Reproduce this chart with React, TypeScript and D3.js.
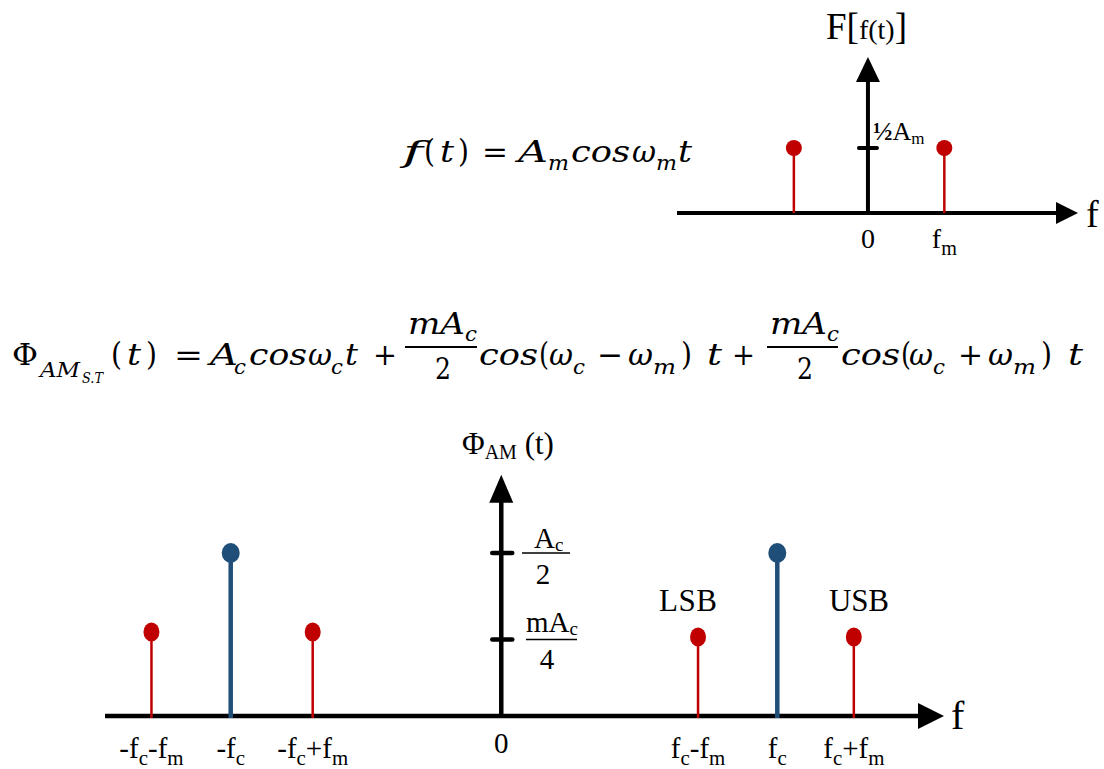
import React from "react";
import * as d3 from "d3";

// message spectrum f(t) = Am cos(wm t): lines at -fm, +fm (units of fm, height in ½Am)
const msgFreqs = [-0.97, 1];
const msgAmps = [1, 1];

// AM spectrum (units of fc, heights in Ac/2)
const amLabels = ["-fc-fm", "-fc", "-fc+fm", "fc-fm", "fc", "fc+fm"];
const amFreqs = [-1.28, -0.99, -0.69, 0.72, 1.01, 1.29];
const amAmps = [0.515, 1, 0.515, 0.485, 1, 0.485];
const amKinds = ["side", "carrier", "side", "side", "carrier", "side"];
const amTicks = [1, 0.47];

const RED = "#c00000";
const BLUE = "#1f4e79";
const SERIF = "'Liberation Serif', 'Times New Roman', serif";
const MATH = "'DejaVu Serif', serif";

type Seg = { s: string; x: number; w: number; y: number; size: number; it?: boolean };

// equation glyph runs (typeset by hand, like Word's equation editor)
const eq1: Seg[] = [
  { s: "f", x: 403, w: 20, y: 162, size: 30, it: true },
  { s: "(", x: 424, w: 11, y: 162, size: 31 },
  { s: "t", x: 440, w: 14, y: 162, size: 30, it: true },
  { s: ")", x: 458, w: 11, y: 162, size: 31 },
  { s: "=", x: 482, w: 26, y: 162, size: 30 },
  { s: "A", x: 518, w: 30, y: 162, size: 30, it: true },
  { s: "m", x: 548, w: 21, y: 170, size: 21, it: true },
  { s: "cos", x: 571, w: 59, y: 162, size: 30, it: true },
  { s: "ω", x: 632, w: 24, y: 162, size: 30, it: true },
  { s: "m", x: 656, w: 21, y: 170, size: 21, it: true },
  { s: "t", x: 678, w: 14, y: 162, size: 30, it: true },
];

const eq2: Seg[] = [
  { s: "Φ", x: 12, w: 26, y: 365, size: 30 },
  { s: "AM", x: 40, w: 40, y: 377, size: 21, it: true },
  { s: "S.T", x: 82, w: 21, y: 383, size: 15, it: true },
  { s: "(", x: 111, w: 11, y: 365, size: 31 },
  { s: "t", x: 127, w: 14, y: 365, size: 30, it: true },
  { s: ")", x: 146, w: 11, y: 365, size: 31 },
  { s: "=", x: 174, w: 29, y: 365, size: 30 },
  { s: "A", x: 210, w: 28, y: 365, size: 30, it: true },
  { s: "c", x: 234, w: 12, y: 374, size: 21, it: true },
  { s: "cos", x: 249, w: 58, y: 365, size: 30, it: true },
  { s: "ω", x: 308, w: 24, y: 365, size: 30, it: true },
  { s: "c", x: 331, w: 12, y: 374, size: 21, it: true },
  { s: "t", x: 345, w: 13, y: 365, size: 30, it: true },
  { s: "+", x: 373, w: 24, y: 365, size: 30 },
  { s: "mA", x: 408, w: 57, y: 334, size: 30, it: true },
  { s: "c", x: 465, w: 12, y: 341, size: 21, it: true },
  { s: "2", x: 435, w: 16, y: 379, size: 30 },
  { s: "cos", x: 479, w: 59, y: 365, size: 30, it: true },
  { s: "(", x: 539, w: 10, y: 365, size: 31 },
  { s: "ω", x: 549, w: 24, y: 365, size: 30, it: true },
  { s: "c", x: 573, w: 12, y: 374, size: 21, it: true },
  { s: "−", x: 597, w: 26, y: 365, size: 30 },
  { s: "ω", x: 628, w: 25, y: 365, size: 30, it: true },
  { s: "m", x: 653, w: 23, y: 374, size: 21, it: true },
  { s: ")", x: 681, w: 11, y: 365, size: 31 },
  { s: "t", x: 707, w: 15, y: 365, size: 30, it: true },
  { s: "+", x: 732, w: 23, y: 365, size: 30 },
  { s: "mA", x: 770, w: 57, y: 334, size: 30, it: true },
  { s: "c", x: 827, w: 12, y: 341, size: 21, it: true },
  { s: "2", x: 797, w: 16, y: 379, size: 30 },
  { s: "cos", x: 841, w: 59, y: 365, size: 30, it: true },
  { s: "(", x: 901, w: 10, y: 365, size: 31 },
  { s: "ω", x: 909, w: 24, y: 365, size: 30, it: true },
  { s: "c", x: 933, w: 12, y: 374, size: 21, it: true },
  { s: "+", x: 958, w: 25, y: 365, size: 30 },
  { s: "ω", x: 988, w: 25, y: 365, size: 30, it: true },
  { s: "m", x: 1013, w: 23, y: 374, size: 21, it: true },
  { s: ")", x: 1041, w: 11, y: 365, size: 31 },
  { s: "t", x: 1068, w: 15, y: 365, size: 30, it: true },
];

const renderSegs = (segs: Seg[]) =>
  segs.map((g, i) => (
    <text
      key={i}
      x={g.x}
      y={g.y}
      fontSize={g.size}
      fontStyle={g.it ? "italic" : "normal"}
      fontFamily={MATH}
      textLength={g.w}
      lengthAdjust="spacingAndGlyphs"
      fill="#000"
    >
      {g.s}
    </text>
  ));

// "f_c-f_m" style label -> main letters + lowered subscript letters
const SubLabel = ({ label, x, y, size }: { label: string; x: number; y: number; size: number }) => {
  const parts = label.match(/f[cm]|[^f]+/g) || [];
  return (
    <text x={x} y={y} textAnchor="middle" fontFamily={SERIF} fontSize={size} fill="#000">
      {parts.map((p, i) =>
        p.startsWith("f") && p.length === 2 ? (
          <React.Fragment key={i}>
            <tspan fontSize={size}>f</tspan>
            <tspan dy={7} fontSize={size * 0.72}>{p[1]}</tspan>
            <tspan dy={-7} fontSize={size}>{"\u200b"}</tspan>
          </React.Fragment>
        ) : (
          <tspan key={i} fontSize={size}>{p}</tspan>
        )
      )}
    </text>
  );
};

const App = () => {
  // top plot scales
  const xTop = d3.scaleLinear().domain([-2.5, 2.75]).range([677, 1078]);
  const yTop = d3.scaleLinear().domain([0, 1]).range([213, 148]);
  const topAxisY = yTop(0);
  const topX0 = xTop(0);
  const topTipY = yTop(2.4);

  // bottom plot scales
  const xBot = d3.scaleLinear().domain([-1.45, 1.62]).range([105, 944]);
  const yBot = d3.scaleLinear().domain([0, 1]).range([716, 553]);
  const botAxisY = yBot(0);
  const botX0 = xBot(0);
  const botTipY = yBot(1.48);

  const xEnd = xBot(1.62);
  const topXEnd = xTop(2.75);

  return (
    <svg
      width={1104}
      height={769}
      style={{ position: "absolute", left: 0, top: 0, background: "#fff" }}
    >
      {/* ---------- top: message spectrum ---------- */}
      <text x={826} y={39} fontFamily={SERIF} fontSize={37}>
        F<tspan fontSize={37}>[</tspan>
        <tspan fontSize={28}>f(t)</tspan>
        <tspan fontSize={37}>]</tspan>
      </text>
      <line x1={xTop(-2.5)} x2={topXEnd - 18} y1={topAxisY} y2={topAxisY} stroke="#000" strokeWidth={4} />
      <path d={`M${topXEnd},${topAxisY} L${topXEnd - 22},${topAxisY - 11} L${topXEnd - 22},${topAxisY + 11} Z`} fill="#000" />
      <line x1={topX0} x2={topX0} y1={topAxisY} y2={topTipY + 20} stroke="#000" strokeWidth={4} />
      <path d={`M${topX0},${topTipY} L${topX0 - 12},${topTipY + 25} L${topX0 + 12},${topTipY + 25} Z`} fill="#000" />
      <line x1={topX0 - 9} x2={topX0 + 9} y1={yTop(1)} y2={yTop(1)} stroke="#000" strokeWidth={4} strokeLinecap="round" />
      <text x={topX0 + 5} y={yTop(1) - 8} fontFamily={SERIF} fontSize={26} fontWeight="bold">
        ½<tspan fontWeight="normal" fontSize={26}>A</tspan>
        <tspan fontWeight="normal" fontSize={17} dy={4}>m</tspan>
      </text>
      {msgFreqs.map((f, i) => (
        <g key={i}>
          <line x1={xTop(f)} x2={xTop(f)} y1={topAxisY} y2={yTop(msgAmps[i])} stroke={RED} strokeWidth={2.5} />
          <circle cx={xTop(f)} cy={yTop(msgAmps[i])} r={8} fill={RED} />
        </g>
      ))}
      <text x={topX0} y={248} textAnchor="middle" fontFamily={SERIF} fontSize={28}>0</text>
      <SubLabel label="fm" x={xTop(1)} y={248} size={28} />
      <text x={1086} y={227} fontFamily={SERIF} fontSize={38}>f</text>

      {/* ---------- equations ---------- */}
      {renderSegs(eq1)}
      {renderSegs(eq2)}
      <line x1={405} x2={477} y1={347} y2={347} stroke="#000" strokeWidth={2} />
      <line x1={767} x2={838} y1={347} y2={347} stroke="#000" strokeWidth={2} />

      {/* ---------- bottom: AM spectrum ---------- */}
      <text x={462} y={454} fontFamily={SERIF} fontSize={31}>
        Φ<tspan fontSize={20} dy={5}>AM</tspan>
        <tspan fontSize={31} dy={-5}> (t)</tspan>
      </text>
      <line x1={xBot(-1.45)} x2={xEnd - 20} y1={botAxisY} y2={botAxisY} stroke="#000" strokeWidth={4.5} />
      <path d={`M${xEnd},${botAxisY} L${xEnd - 26},${botAxisY - 13} L${xEnd - 26},${botAxisY + 13} Z`} fill="#000" />
      <line x1={botX0} x2={botX0} y1={botAxisY} y2={botTipY + 20} stroke="#000" strokeWidth={4.5} />
      <path d={`M${botX0},${botTipY} L${botX0 - 12},${botTipY + 28} L${botX0 + 12},${botTipY + 28} Z`} fill="#000" />
      {amTicks.map((t, i) => (
        <line key={i} x1={botX0 - 9} x2={botX0 + 11} y1={yBot(t)} y2={yBot(t)} stroke="#000" strokeWidth={4.5} strokeLinecap="round" />
      ))}
      {/* Ac/2 */}
      <text x={534} y={548} fontFamily={SERIF} fontSize={29}>
        A<tspan fontSize={19} dy={3}>c</tspan>
      </text>
      <line x1={522} x2={570} y1={yBot(1)} y2={yBot(1)} stroke="#000" strokeWidth={1.5} />
      <text x={543} y={584} textAnchor="middle" fontFamily={SERIF} fontSize={29}>2</text>
      {/* mAc/4 */}
      <text x={526} y={632} fontFamily={SERIF} fontSize={29}>
        mA<tspan fontSize={19} dy={3}>c</tspan>
      </text>
      <line x1={526} x2={577} y1={yBot(0.47)} y2={yBot(0.47)} stroke="#000" strokeWidth={1.5} />
      <text x={547} y={669} textAnchor="middle" fontFamily={SERIF} fontSize={29}>4</text>

      {amFreqs.map((f, i) => {
        const carrier = amKinds[i] === "carrier";
        const c = carrier ? BLUE : RED;
        return (
          <g key={i}>
            <line x1={xBot(f)} x2={xBot(f)} y1={botAxisY + 2} y2={yBot(amAmps[i])} stroke={c} strokeWidth={carrier ? 4.5 : 2.5} />
            <ellipse cx={xBot(f)} cy={yBot(amAmps[i])} rx={carrier ? 9 : 8} ry={carrier ? 10 : 9.5} fill={c} />
            <SubLabel label={amLabels[i]} x={xBot(f)} y={758} size={29} />
          </g>
        );
      })}
      <text x={botX0} y={753} textAnchor="middle" fontFamily={SERIF} fontSize={29}>0</text>
      <text x={688} y={611} textAnchor="middle" fontFamily={SERIF} fontSize={31} textLength={58} lengthAdjust="spacing">LSB</text>
      <text x={859} y={611} textAnchor="middle" fontFamily={SERIF} fontSize={31} textLength={60} lengthAdjust="spacing">USB</text>
      <text x={951} y={729} fontFamily={SERIF} fontSize={40}>f</text>
    </svg>
  );
};

export default App;
